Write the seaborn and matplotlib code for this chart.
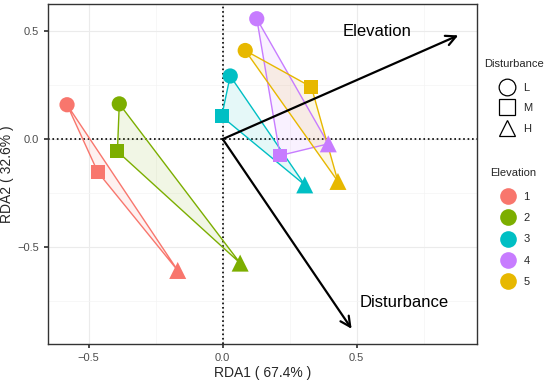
import numpy as np
import pandas as pd
import seaborn as sns
import matplotlib.pyplot as plt
from matplotlib.lines import Line2D

# site scores
elevation = ['1', '1', '1', '2', '2', '2', '3', '3', '3', '4', '4', '4', '5', '5', '5']
disturbance = ['L', 'M', 'H'] * 5
rda1 = [-0.581, -0.466, -0.168,
        -0.386, -0.393, 0.065,
        0.028, -0.004, 0.306,
        0.127, 0.214, 0.394,
        0.084, 0.331, 0.430]
rda2 = [0.159, -0.153, -0.608,
        0.163, -0.057, -0.574,
        0.292, 0.105, -0.212,
        0.557, -0.076, -0.022,
        0.410, 0.241, -0.196]

# environmental vectors
env_names = ['Elevation', 'Disturbance']
env_rda1 = [0.879, 0.481]
env_rda2 = [0.480, -0.878]
env_label_x = [0.575, 0.676]
env_label_y = [0.498, -0.755]

elev_levels = ['1', '2', '3', '4', '5']
dist_levels = ['L', 'M', 'H']
colors = ['#F8766D', '#7CAE00', '#00BFC4', '#C77CFF', '#E7B800']
palette = dict(zip(elev_levels, colors))
markers = {'L': 'o', 'M': 's', 'H': '^'}
sizes = {'L': 120, 'M': 100, 'H': 150}

df = pd.DataFrame({'Elevation': elevation, 'Disturbance': disturbance,
                   'RDA1': rda1, 'RDA2': rda2})

sns.set_theme(style="white")
plt.rcParams['font.family'] = ['Liberation Sans', 'DejaVu Sans']

fig = plt.figure(figsize=(5.5, 3.83), dpi=100)
ax = fig.add_axes([0.0873, 0.102, 0.78, 0.888])

# polygons (hull of L-M-H per elevation)
for lev, col in palette.items():
    sub = df[df['Elevation'] == lev]
    ax.fill(sub['RDA1'], sub['RDA2'], facecolor=col, alpha=0.1, edgecolor='none', zorder=2)
    ax.fill(sub['RDA1'], sub['RDA2'], facecolor='none', edgecolor=col, lw=1.0, zorder=3)

for d in dist_levels:
    sub = df[df['Disturbance'] == d]
    sns.scatterplot(data=sub, x='RDA1', y='RDA2', hue='Elevation', palette=palette,
                    marker=markers[d], s=sizes[d], linewidth=0, ax=ax, legend=False, zorder=4)

ax.axhline(0, color='black', ls=':', lw=1.2, zorder=1)
ax.axvline(0, color='black', ls=':', lw=1.2, zorder=1)

for name, x, y, lx, ly in zip(env_names, env_rda1, env_rda2, env_label_x, env_label_y):
    ax.annotate('', xy=(x, y), xytext=(0, 0),
                arrowprops=dict(arrowstyle='->', color='black', lw=1.6, mutation_scale=18,
                                shrinkA=0, shrinkB=0), zorder=5)
    ax.text(lx, ly, name, fontsize=12, ha='center', va='center', color='black', zorder=5)

ax.set_xlim(-0.652, 0.949)
ax.set_ylim(-0.948, 0.626)
ax.set_xticks([-0.5, 0.0, 0.5])
ax.set_yticks([-0.5, 0.0, 0.5])
ax.set_xticks([-0.25, 0.25, 0.75], minor=True)
ax.set_yticks([-0.75, -0.25, 0.25], minor=True)
ax.grid(True, which='major', color='#EBEBEB', lw=0.8)
ax.grid(True, which='minor', color='#F4F4F4', lw=0.5)
ax.set_axisbelow(True)
ax.tick_params(axis='both', which='major', labelsize=8, labelcolor='#4D4D4D',
               length=3, color='#333333', left=True, bottom=True)
ax.tick_params(axis='both', which='minor', length=0)
for sp in ax.spines.values():
    sp.set_color('#333333')
    sp.set_linewidth(1.0)
ax.set_xlabel('RDA1 ( 67.4% )', fontsize=10, labelpad=2)
ax.set_ylabel('RDA2 ( 32.6% )', fontsize=10, labelpad=2)

# legends
dist_handles = [Line2D([], [], marker=markers[d], ls='none', markerfacecolor='white',
                       markeredgecolor='black', markersize=12, markeredgewidth=0.9)
                for d in dist_levels]
leg1 = fig.legend(dist_handles, dist_levels, title='Disturbance', loc='upper left',
                  bbox_to_anchor=(0.872, 0.858), frameon=False, fontsize=8,
                  title_fontsize=8, handletextpad=0.4, labelspacing=0.95, borderaxespad=0)
leg1._legend_box.sep = 10
elev_handles = [Line2D([], [], marker='o', ls='none', markerfacecolor=c,
                       markeredgecolor='none', markersize=12) for c in colors]
leg2 = fig.legend(elev_handles, elev_levels, title='Elevation', loc='upper left',
                  bbox_to_anchor=(0.883, 0.572), frameon=False, fontsize=8,
                  title_fontsize=8, handletextpad=0.4, labelspacing=1.0, borderaxespad=0)
leg2._legend_box.sep = 10

fig.savefig('out.png', dpi=100)
